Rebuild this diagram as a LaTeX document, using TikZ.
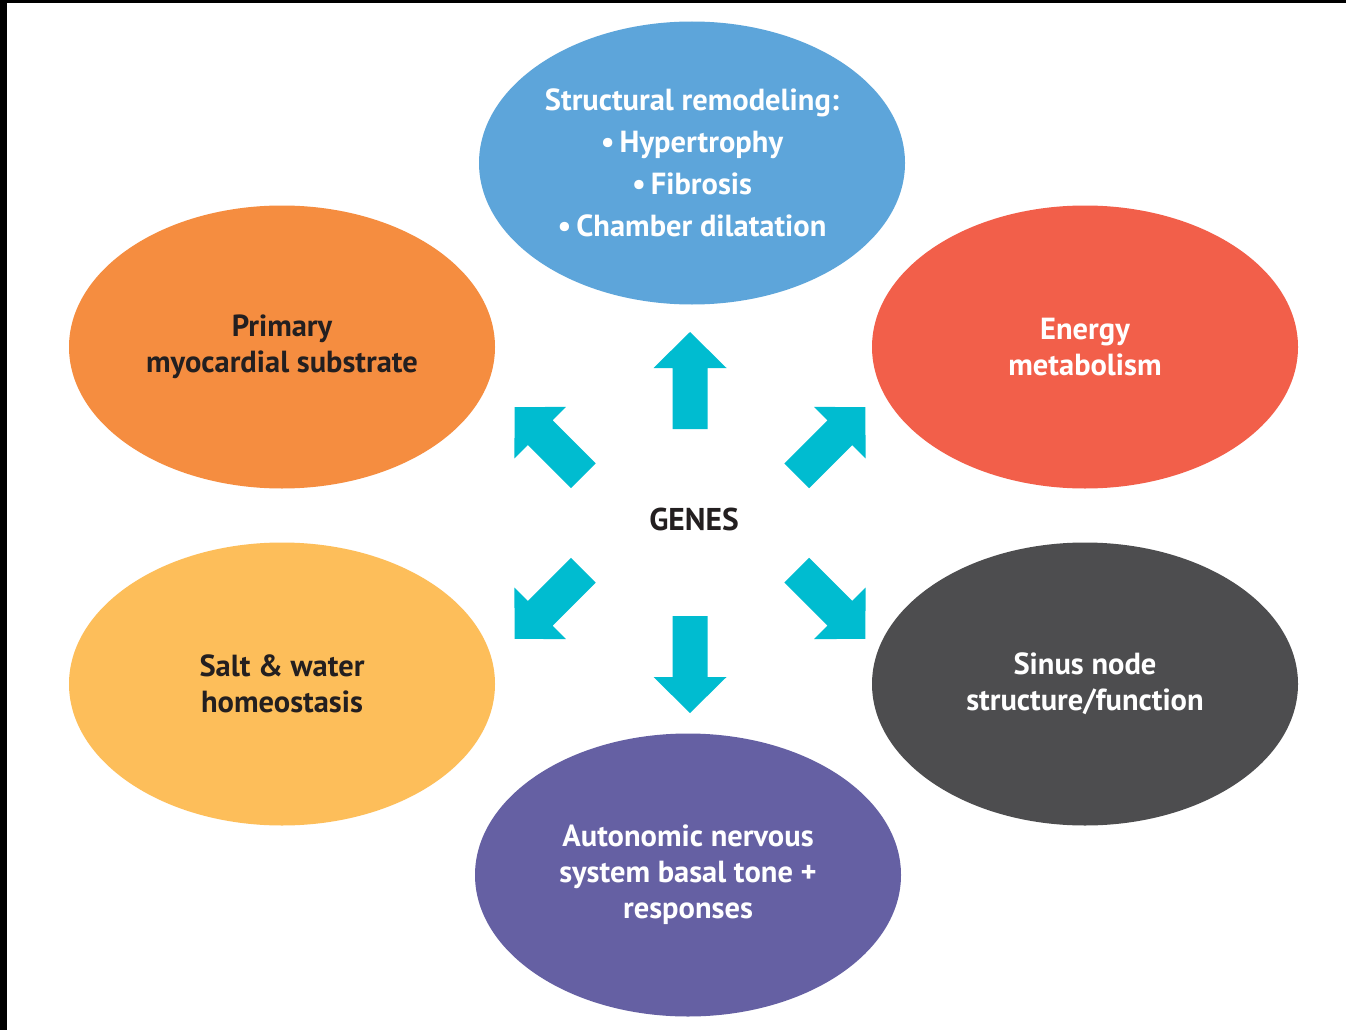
\documentclass[tikz,border=0pt]{standalone}
\usepackage{fontspec}
\setmainfont{PT Sans}
\usetikzlibrary{shapes.geometric}
\definecolor{cBlue}{HTML}{5DA5DA}
\definecolor{cOrange}{HTML}{F58D40}
\definecolor{cRed}{HTML}{F25F4A}
\definecolor{cYellow}{HTML}{FDBE5A}
\definecolor{cDark}{HTML}{4D4D4F}
\definecolor{cPurple}{HTML}{6560A3}
\definecolor{cCyan}{HTML}{00BCD0}
\definecolor{cInk}{HTML}{231F20}
\tikzset{
  x=1pt, y=1pt,
  bubble/.style={ellipse, minimum width=426pt, minimum height=283pt, inner sep=0pt,
    align=center, font=\bfseries\fontsize{30.5}{36}\selectfont},
  lighttext/.style={text=white},
  darktext/.style={text=cInk},
  pics/blockarrow/.style={code={
    \fill[cCyan] (-48.5,-17.5) -- (12.5,-17.5) -- (12.5,-36.5) -- (48.5,0)
      -- (12.5,36.5) -- (12.5,17.5) -- (-48.5,17.5) -- cycle;}}
}
\begin{document}
\begin{tikzpicture}
\useasboundingbox (0,0) rectangle (1346,-1030);
\fill[white] (0,0) rectangle (1346,-1030);
% frame edges
\fill[black] (0,0) rectangle (7,-1030);
\fill[black] (0,0) rectangle (1346,-3);

% outcome bubbles
\node[bubble, fill=cBlue, lighttext, font=\bfseries\fontsize{30.5}{42}\selectfont] (remodel) at (692,-163)
  {Structural remodeling:\\ \textbullet\,Hypertrophy\\ \textbullet\,Fibrosis\\ \textbullet\,Chamber dilatation};
\node[bubble, fill=cOrange, darktext] (substrate) at (282,-347) {Primary\\myocardial substrate};
\node[bubble, fill=cRed, lighttext] (energy) at (1085,-347) {Energy\\metabolism};
\node[bubble, fill=cYellow, darktext] (salt) at (282,-684) {Salt \& water\\homeostasis};
\node[bubble, fill=cDark, lighttext] (sinus) at (1085,-684) {Sinus node\\structure/function};
\node[bubble, fill=cPurple, lighttext] (ans) at (688,-875) {Autonomic nervous\\system basal tone +\\responses};

% central label
\node[darktext, font=\bfseries\fontsize{31.5}{36}\selectfont] (genes) at (694,-519) {GENES};

% block arrows radiating from the centre
\pic[rotate=90]  at (690,-380.5) {blockarrow};
\pic[rotate=-90] at (690,-664.5) {blockarrow};
\pic[rotate=135] at (549,-441.5) {blockarrow};
\pic[rotate=45]  at (831,-441.5) {blockarrow};
\pic[rotate=225] at (549,-604.5) {blockarrow};
\pic[rotate=-45] at (831,-604.5) {blockarrow};
\end{tikzpicture}
\end{document}
